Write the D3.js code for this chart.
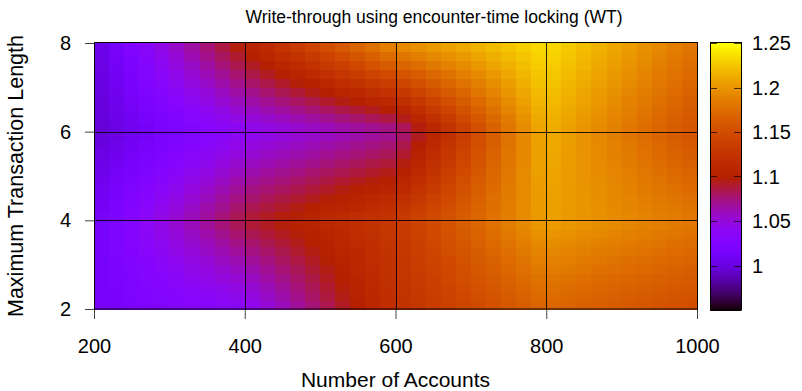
<!DOCTYPE html>
<html><head><meta charset="utf-8">
<script src="https://cdn.jsdelivr.net/npm/d3@7"></script>
<style>body{margin:0;background:#fff}svg text{font-family:"Liberation Sans",Arial,sans-serif;fill:#000}</style>
</head><body><svg id="c" width="802" height="391"></svg>
<script>
// ---- data ----
const accounts = [200, 400, 600, 800, 1000];
const txLengths = [2, 4, 6, 8];
const speedupLen2 = [1.016, 1.037, 1.122, 1.170, 1.150];
const speedupLen4 = [1.012, 1.090, 1.131, 1.207, 1.183];
const speedupLen6 = [0.996, 1.040, 1.070, 1.215, 1.154];
const speedupLen8 = [1.000, 1.106, 1.198, 1.237, 1.180];
const xTicks = [200, 400, 600, 800, 1000];
const yTicks = [2, 4, 6, 8];
const cbTicks = [1, 1.05, 1.1, 1.15, 1.2, 1.25];
const cbDomain = [0.95, 1.25];
const titleText = "Write-through using encounter-time locking (WT)";
const xLabel = "Number of Accounts";
const yLabel = "Maximum Transaction Length";

const grid = [speedupLen2, speedupLen4, speedupLen6, speedupLen8];

// ---- layout ----
const L = 94, R = 697, T = 43, B = 309;
const cbL = 710, cbR = 741, cbT = 43, cbB = 310;
const steps = 10;

const svg = d3.select("#c");
const x = d3.scaleLinear().domain([200, 1000]).range([L, R]);
const y = d3.scaleLinear().domain([2, 8]).range([B, T]);
const cb = d3.scaleLinear().domain(cbDomain).range([cbB, cbT]);

// gnuplot default palette (rgbformulae 7,5,15)
function pal(v) {
  let t = (v - cbDomain[0]) / (cbDomain[1] - cbDomain[0]);
  t = Math.max(0, Math.min(1, t));
  const r = Math.sqrt(t), g = t * t * t, b = Math.max(0, Math.sin(2 * Math.PI * t));
  return d3.rgb(r * 255, g * 255, b * 255).formatHex();
}

// interpolated pm3d cells
const cells = [];
for (let j = 0; j < txLengths.length - 1; j++) {
  for (let i = 0; i < accounts.length - 1; i++) {
    const x0 = accounts[i], x1 = accounts[i + 1];
    const y0 = txLengths[j], y1 = txLengths[j + 1];
    const z00 = grid[j][i], z10 = grid[j][i + 1], z01 = grid[j + 1][i], z11 = grid[j + 1][i + 1];
    for (let a = 0; a < steps; a++) {
      for (let b = 0; b < steps; b++) {
        const u = (a + 0.5) / steps, w = (b + 0.5) / steps;
        const z = z00 * (1 - u) * (1 - w) + z10 * u * (1 - w) + z01 * (1 - u) * w + z11 * u * w;
        cells.push({
          xa: x0 + (x1 - x0) * a / steps, xb: x0 + (x1 - x0) * (a + 1) / steps,
          ya: y0 + (y1 - y0) * b / steps, yb: y0 + (y1 - y0) * (b + 1) / steps, z
        });
      }
    }
  }
}
svg.append("g").attr("shape-rendering", "crispEdges")
  .selectAll("rect").data(cells).join("rect")
  .attr("x", d => x(d.xa)).attr("y", d => y(d.yb))
  .attr("width", d => x(d.xb) - x(d.xa) + 0.5)
  .attr("height", d => y(d.ya) - y(d.yb) + 0.5)
  .attr("fill", d => pal(d.z));

// grid lines (front)
const gridG = svg.append("g").attr("stroke", "#000").attr("stroke-width", 1).attr("opacity", 0.85);
gridG.selectAll("line.v").data(xTicks.slice(1, -1)).join("line")
  .attr("x1", d => Math.round(x(d)) + 0.5).attr("x2", d => Math.round(x(d)) + 0.5)
  .attr("y1", T).attr("y2", B);
gridG.selectAll("line.h").data(yTicks.slice(1, -1)).join("line")
  .attr("y1", d => Math.round(y(d)) + 0.5).attr("y2", d => Math.round(y(d)) + 0.5)
  .attr("x1", L).attr("x2", R);

// axes
const fs = "20px";
const xa = svg.append("g").attr("transform", `translate(0,${B})`)
  .call(d3.axisBottom(x).tickValues(xTicks).tickSize(10).tickPadding(20).tickFormat(d3.format("d")));
xa.select(".domain").remove();
xa.selectAll("text").attr("font-size", fs).attr("font-family", null);
xa.selectAll("line").attr("stroke", "#444");

const ya = svg.append("g").attr("transform", `translate(${L},0)`)
  .call(d3.axisLeft(y).tickValues(yTicks).tickSize(9).tickPadding(14).tickFormat(d3.format("d")));
ya.select(".domain").remove();
ya.selectAll("text").attr("font-size", fs).attr("font-family", null);
ya.selectAll("line").attr("stroke", "#444");

// border
svg.append("rect").attr("x", L + 0.5).attr("y", T - 0.5).attr("width", R - L).attr("height", B - T + 0.5)
  .attr("fill", "none").attr("stroke", "#000");

// colorbar
const cbVals = d3.range(cbB - cbT).map(k => cb.invert(cbB - k - 0.5));
svg.append("g").attr("shape-rendering", "crispEdges").selectAll("rect").data(cbVals).join("rect")
  .attr("x", cbL).attr("width", cbR - cbL)
  .attr("y", d => cb(d) - 0.5).attr("height", 1.5)
  .attr("fill", d => pal(d));
svg.append("rect").attr("x", cbL + 0.5).attr("y", cbT - 0.5).attr("width", cbR - cbL).attr("height", cbB - cbT + 0.5)
  .attr("fill", "none").attr("stroke", "#000");
const cbt = svg.append("g");
cbt.selectAll("line.l").data(cbTicks).join("line")
  .attr("x1", cbL).attr("x2", cbL + 7)
  .attr("y1", d => Math.round(cb(d)) + 0.5).attr("y2", d => Math.round(cb(d)) + 0.5)
  .attr("stroke", "#000").attr("opacity", 0.7);
cbt.selectAll("line.r").data(cbTicks).join("line")
  .attr("x1", cbR - 7).attr("x2", cbR)
  .attr("y1", d => Math.round(cb(d)) + 0.5).attr("y2", d => Math.round(cb(d)) + 0.5)
  .attr("stroke", "#000").attr("opacity", 0.7);
cbt.selectAll("text").data(cbTicks).join("text")
  .attr("x", 752).attr("y", d => cb(d)).attr("dy", "0.35em")
  .attr("font-size", fs).text(d => d3.format("")(d));

// titles
svg.append("text").attr("x", 434).attr("y", 23).attr("text-anchor", "middle")
  .attr("font-size", "17.5px").text(titleText);
svg.append("text").attr("x", (L + R) / 2).attr("y", 387).attr("text-anchor", "middle")
  .attr("font-size", "21px").text(xLabel);
svg.append("text").attr("transform", `translate(23,${(T + B) / 2}) rotate(-90)`).attr("text-anchor", "middle")
  .attr("font-size", "21.5px").text(yLabel);
</script></body></html>
